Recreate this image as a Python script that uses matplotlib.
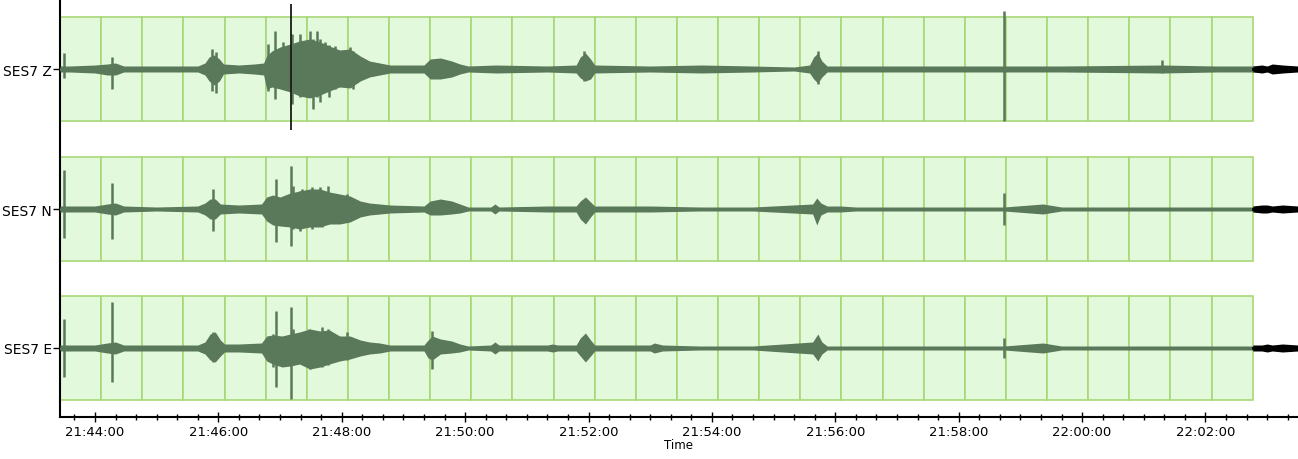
import numpy as np
import matplotlib
matplotlib.use("Agg")
from matplotlib import pyplot as plt
from matplotlib.patches import Rectangle
from matplotlib.ticker import FixedLocator, FuncFormatter

# time in seconds after 21:43:00
channels = ["SES7 Z", "SES7 N", "SES7 E"]
offsets = [348, 208, 69]   # trace baselines on the y axis

# envelope of each trace: time, amplitude above, amplitude below
z_t = [26, 35, 60, 72, 80, 88, 120, 160, 167, 171, 176, 181, 185, 200, 215, 224, 227, 232, 240, 250,
       259, 269, 279, 288, 298, 308, 318, 327, 337, 347, 380, 386, 396, 407, 415, 423, 450, 500, 528,
       532, 537, 542, 546, 600, 650, 700, 740, 755, 759, 763, 767, 772, 850, 944, 1000, 1098, 1150, 1186]
z_up = [3, 3, 4, 5, 6, 3, 3, 3, 6, 12, 14, 10, 5, 4, 5, 6, 13, 18, 22, 25,
        28, 30, 27, 23, 19, 20, 13, 8, 6, 4, 4, 10, 11, 8, 5, 3, 4, 3, 4,
        12, 16, 10, 4, 3, 4, 3, 2, 4, 12, 16, 8, 3, 3, 3, 3, 4, 3, 3]
z_dn = [3, 3, 4, 6, 6, 3, 3, 3, 6, 12, 16, 12, 5, 4, 5, 6, 20, 18, 20, 23,
        27, 29, 26, 22, 18, 19, 12, 8, 6, 4, 4, 10, 10, 8, 5, 3, 4, 3, 4,
        9, 12, 10, 4, 3, 4, 3, 2, 4, 10, 14, 8, 3, 3, 3, 3, 4, 3, 3]

n_t = [26, 60, 72, 80, 88, 120, 160, 167, 172, 177, 182, 200, 222, 227, 233, 240, 250, 259, 269, 279,
       288, 298, 308, 318, 327, 337, 347, 380, 386, 396, 407, 415, 423, 445, 449, 453, 500, 528, 532,
       537, 542, 546, 600, 648, 700, 758, 762, 766, 772, 785, 800, 944, 982, 1000, 1186]
n_up = [3, 3, 5, 6, 3, 2, 3, 6, 10, 10, 5, 4, 5, 12, 14, 12, 16, 18, 20, 20,
        17, 15, 13, 8, 6, 5, 4, 3, 8, 10, 8, 5, 2, 2, 5, 2, 3, 3, 8,
        12, 7, 3, 3, 2, 2, 5, 11, 6, 3, 3, 2, 2, 5, 2, 2]
n_dn = [3, 3, 5, 6, 3, 2, 3, 6, 10, 10, 5, 4, 5, 12, 16, 17, 18, 20, 18, 18,
        15, 15, 13, 8, 6, 5, 4, 3, 6, 6, 5, 4, 2, 2, 5, 2, 3, 3, 10,
        15, 8, 3, 3, 2, 2, 5, 16, 6, 3, 3, 2, 2, 5, 2, 2]

e_t = [26, 60, 72, 80, 88, 120, 160, 167, 172, 177, 182, 186, 200, 222, 227, 233, 242, 250, 259, 269,
       279, 288, 298, 308, 318, 327, 337, 347, 380, 384, 388, 396, 407, 415, 423, 445, 449, 453, 500,
       505, 510, 528, 532, 537, 542, 546, 600, 604, 612, 648, 700, 758, 763, 767, 772, 944, 982, 1000, 1186]
e_up = [3, 3, 5, 6, 3, 3, 3, 6, 14, 16, 8, 4, 4, 5, 12, 13, 12, 14, 16, 19,
        17, 18, 12, 12, 8, 6, 5, 3, 3, 8, 12, 9, 7, 4, 2, 3, 6, 3, 3,
        4, 3, 3, 10, 15, 8, 3, 3, 5, 3, 2, 2, 6, 14, 6, 2, 2, 5, 2, 2]
e_dn = [3, 3, 5, 6, 3, 3, 3, 6, 12, 14, 8, 4, 4, 5, 13, 16, 19, 18, 16, 21,
        19, 16, 13, 11, 8, 6, 5, 3, 3, 10, 12, 6, 5, 4, 2, 3, 6, 3, 3,
        4, 3, 3, 8, 14, 8, 3, 3, 5, 3, 2, 2, 6, 13, 6, 2, 2, 5, 2, 2]

# single large swings: time, amplitude above, amplitude below
z_spk_t = [30, 77, 174, 178, 228, 235, 243, 252, 259, 269, 272, 276, 279, 284, 288, 293, 308, 311,
           536, 763, 944, 1098]
z_spk_up = [16, 12, 20, 17, 25, 38, 27, 35, 35, 38, 30, 38, 30, 27, 24, 23, 22, 18, 18, 18, 58, 9]
z_spk_dn = [9, 20, 22, 24, 22, 30, 20, 35, 28, 25, 40, 28, 33, 22, 28, 20, 18, 20, 12, 15, 52, 4]

n_spk_t = [30, 77, 175, 236, 251, 253, 259, 261, 271, 279, 281, 287, 305, 944]
n_spk_up = [39, 26, 20, 30, 43, 23, 18, 20, 22, 22, 17, 23, 15, 16]
n_spk_dn = [29, 30, 22, 33, 37, 20, 22, 19, 20, 17, 18, 15, 12, 16]

e_spk_t = [30, 77, 175, 233, 236, 251, 253, 268, 269, 281, 287, 305, 388, 944]
e_spk_up = [29, 46, 16, 14, 37, 41, 19, 19, 17, 21, 19, 16, 17, 10]
e_spk_dn = [29, 34, 14, 19, 39, 51, 17, 18, 21, 19, 17, 12, 21, 10]

# part of the record after the last window (drawn black)
tail_t = [1186, 1195, 1200, 1205, 1215, 1230]
tail_z = [3, 4, 3, 5, 4, 3]
tail_n = [3, 4, 4, 3, 4, 3]
tail_e = [3, 3, 4, 3, 4, 3]

# pick marker on the Z trace
pick_t = 251

win_start = 26
win_len = 40
n_win = 29

major_t = list(range(60, 1141, 120))
minor_t = list(range(40, 1230, 20))

trace_col = "#5a785a"
fill_col = "#e3f9dc"
edge_col = "#a8d878"

fig = plt.figure(figsize=(12.98, 4.6), dpi=100)
ax = fig.add_axes([60 / 1298, 42 / 460, 1238 / 1298, 418 / 460])

envs = [(z_t, z_up, z_dn), (n_t, n_up, n_dn), (e_t, e_up, e_dn)]
spks = [(z_spk_t, z_spk_up, z_spk_dn), (n_spk_t, n_spk_up, n_spk_dn), (e_spk_t, e_spk_up, e_spk_dn)]
tails = [tail_z, tail_n, tail_e]

for k, c in enumerate(offsets):
    # recording windows
    for i in range(n_win):
        ax.add_patch(Rectangle((win_start + i * win_len, c - 52), win_len, 104,
                               facecolor=fill_col, edgecolor=edge_col, lw=1.2, zorder=1))
    t, up, dn = envs[k]
    t = np.array(t)
    ax.fill_between(t, c + np.array(up), c - np.array(dn), color=trace_col, lw=0, zorder=3)
    ax.plot(t, [c] * len(t), color=trace_col, lw=1.8, zorder=3)
    st, su, sd = spks[k]
    ax.vlines(st, c - np.array(sd), c + np.array(su), color=trace_col, lw=1.8, zorder=3)
    ta = np.array(tails[k])
    ax.fill_between(tail_t, c + ta, c - ta, color="black", lw=0, zorder=3)
    ax.plot(tail_t, [c] * len(tail_t), color="black", lw=2, zorder=3)

ax.vlines([pick_t], offsets[0] - 61, offsets[0] + 65, color="#1a1a1a", lw=1.3, zorder=4)

ax.set_xlim(26, 1230)
ax.set_ylim(0, 418)

ax.xaxis.set_major_locator(FixedLocator(major_t))
ax.xaxis.set_minor_locator(FixedLocator(minor_t))
ax.xaxis.set_major_formatter(FuncFormatter(
    lambda v, p: "%02d:%02d:%02d" % (21 + (43 + int(v) // 60) // 60, (43 + int(v) // 60) % 60, int(v) % 60)))
ax.set_yticks(offsets)
ax.set_yticklabels(channels)
ax.tick_params(axis="x", which="major", direction="inout", length=7, width=1, labelsize=9.5, pad=2)
ax.tick_params(axis="x", which="minor", direction="inout", length=5, width=1)
ax.tick_params(axis="y", direction="out", length=5, width=1, labelsize=10, pad=1)
ax.set_xlabel("Time", fontsize=8.5, labelpad=0)

for s in ["top", "right"]:
    ax.spines[s].set_visible(False)
ax.spines["left"].set_linewidth(1.5)
ax.spines["bottom"].set_linewidth(1.5)
ax.set_facecolor("white")

fig.savefig("out.png", dpi=100)
